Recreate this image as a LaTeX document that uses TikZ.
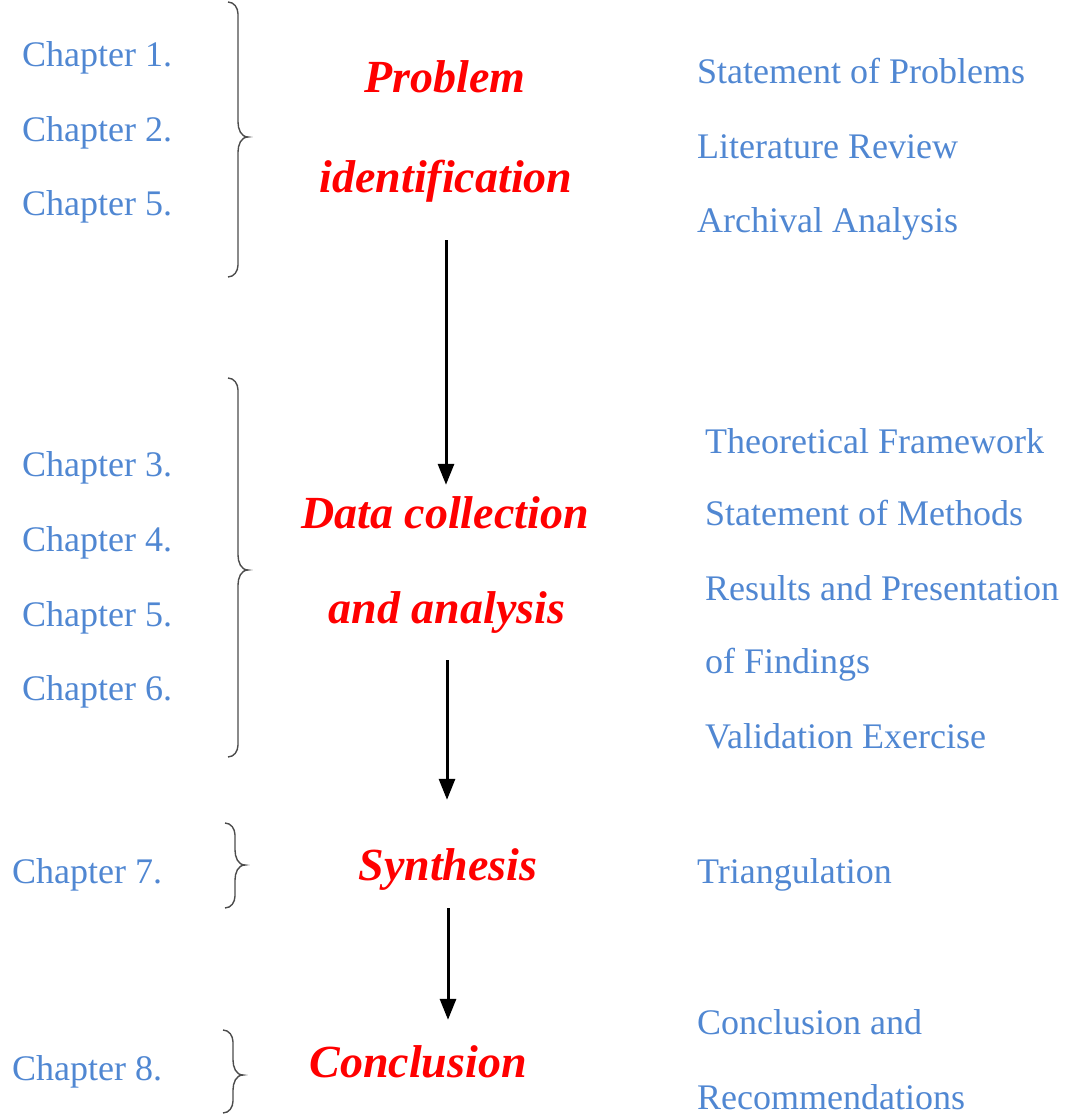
\documentclass[tikz,border=0pt]{standalone}
\usepackage{fontspec}
\setmainfont{Liberation Serif}
\usetikzlibrary{arrows.meta}
\definecolor{chapblue}{RGB}{80,135,210}
\tikzset{
  chap/.style={anchor=base west,inner sep=0pt,text=chapblue,font=\fontsize{36}{40}\selectfont},
  phase/.style={anchor=base,inner sep=0pt,text=red,text height=32pt,text depth=10pt,
    font=\fontsize{46}{50}\selectfont\bfseries\itshape},
  flow/.style={line width=3pt,-{Triangle[length=21pt,width=16pt]}},
  chbrace/.style={line width=1.4pt,black!70}
}
\begin{document}
\begin{tikzpicture}[x=1pt,y=-1pt]
  \useasboundingbox (0,0) rectangle (1067,1115);
  % chapters on the left
  \foreach \n/\c/\x/\y in {ch1/1/22/67,ch2/2/22/142,ch5/5/22/215,ch3/3/22/476,ch4/4/22/551,
      ch5b/5/22/626,ch6/6/22/700,ch7/7/12/883,ch8/8/12/1080}
    \node[chap] (\n) at (\x,\y) {Chapter \c.};
  % braces
  \foreach \x/\t/\m/\b in {238/2/137/277,238/378/570/757,235/823/865/908,233/1030/1075/1113}
    \draw[chbrace] (\x-10,\t) to[out=0,in=90] (\x,\t+12) -- (\x,\m-15) to[out=-90,in=180] (\x+10,\m)
      to[out=180,in=90] (\x,\m+15) -- (\x,\b-12) to[out=-90,in=0] (\x-10,\b);
  % phases
  \node[phase] (prob) at (445,93) {Problem};
  \node[phase] (ident) at (446,193) {identification};
  \node[phase] (data) at (445,528) {Data collection};
  \node[phase] (anal) at (447,623) {and analysis};
  \node[phase] (synth) at (448,880) {Synthesis};
  \node[phase] (concl) at (418,1077) {Conclusion};
  \draw[flow,shorten <=37pt,shorten >=11pt] (ident.south) -- (ident.south |- data.north);
  \draw[flow,shorten <=27pt,shorten >=48pt] (anal.south) -- (anal.south |- synth.north);
  \draw[flow,shorten <=18pt,shorten >=25pt] (synth.south) -- (synth.south |- concl.north);
  % contents on the right
  \foreach \n/\x/\y/\t in {r1/697/84/Statement of Problems,r2/697/159/Literature Review,
      r3/697/233/Archival Analysis,r4/705/453/Theoretical Framework,r5/705/525/Statement of Methods,
      r6/705/600/Results and Presentation,r7/705/673/of Findings,r8/705/748/Validation Exercise,
      r9/697/883/Triangulation,r10/697/1034/Conclusion and,r11/697/1109/Recommendations}
    \node[chap] (\n) at (\x,\y) {\t};
\end{tikzpicture}
\end{document}
